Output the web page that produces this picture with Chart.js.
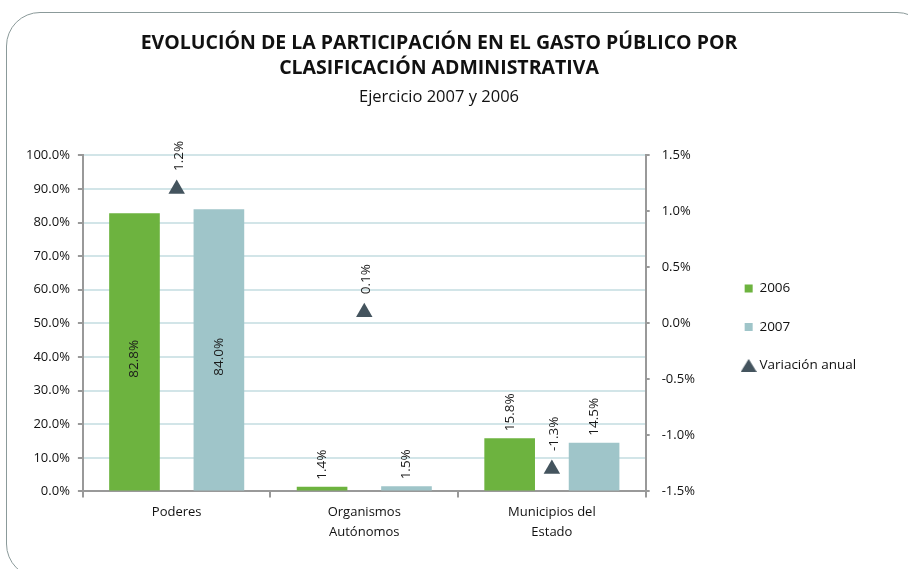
<!DOCTYPE html>
<html>
<head>
<meta charset="utf-8">
<script src="https://cdn.jsdelivr.net/npm/chart.js@4.4.0/dist/chart.umd.min.js"></script>
<style>
  html, body { margin: 0; padding: 0; background: #fff; overflow: hidden; }
  #frame {
    position: absolute; left: 6px; top: 12px; width: 925px; height: 566px;
    border: 1.5px solid #8b9a9a; border-radius: 34px; box-sizing: border-box;
  }
  #wrap { position: absolute; left: 0; top: 0; width: 908px; height: 569px; }
</style>
</head>
<body>
<div id="frame"></div>
<div id="wrap"><canvas id="gasto" width="908" height="569"></canvas></div>
<script>
const categorias = [['Poderes'], ['Organismos', 'Autónomos'], ['Municipios del', 'Estado']]
const valores2006 = [82.8, 1.4, 15.8]
const valores2007 = [84.0, 1.5, 14.5]
const variacionAnual = [1.2, 0.1, -1.3]

const FONT = "'Open Sans', 'DejaVu Sans', sans-serif"
const GRIS = '#44545e'

// triangulo de la leyenda
const triLeyenda = document.createElement('canvas')
triLeyenda.width = 16
triLeyenda.height = 13
const tctx = triLeyenda.getContext('2d')
tctx.fillStyle = GRIS
tctx.beginPath()
tctx.moveTo(8, 0)
tctx.lineTo(16, 13)
tctx.lineTo(0, 13)
tctx.closePath()
tctx.fill()

// etiquetas de valor giradas (dentro de la barra si cabe, si no arriba)
const etiquetas = {
    id: 'etiquetas',
    afterDatasetsDraw(chart) {
        const ctx = chart.ctx
        ctx.save()
        ctx.font = '13.5px ' + FONT
        ctx.fillStyle = '#1a1a1a'
        chart.data.datasets.forEach((ds, i) => {
            const meta = chart.getDatasetMeta(i)
            meta.data.forEach((el, j) => {
                const txt = ds.data[j].toFixed(1) + '%'
                const w = ctx.measureText(txt).width
                ctx.save()
                ctx.textBaseline = 'middle'
                if (ds.type === 'line') {
                    ctx.translate(el.x + 2, el.y - 18)
                    ctx.rotate(-Math.PI / 2)
                    ctx.textAlign = 'left'
                } else if (el.base - el.y > w + 20) {
                    ctx.translate(el.x, (el.y + el.base) / 2 + 7)
                    ctx.rotate(-Math.PI / 2)
                    ctx.textAlign = 'center'
                } else {
                    ctx.translate(el.x, el.y - 7)
                    ctx.rotate(-Math.PI / 2)
                    ctx.textAlign = 'left'
                }
                ctx.fillText(txt, 0, 0)
                ctx.restore()
            })
        })
        ctx.restore()
    }
}

const gasto = document.getElementById('gasto').getContext('2d')
new Chart(gasto, {
    type: 'bar',
    data: {
        labels: categorias,
        datasets: [
            {
                label: '2006',
                data: valores2006,
                backgroundColor: '#6db33f',
                yAxisID: 'y',
                order: 2
            },
            {
                label: '2007',
                data: valores2007,
                backgroundColor: '#9fc5c9',
                yAxisID: 'y',
                order: 2
            },
            {
                type: 'line',
                label: 'Variación anual',
                data: variacionAnual,
                yAxisID: 'y1',
                showLine: false,
                pointStyle: 'triangle',
                pointRadius: 9.5,
                pointHoverRadius: 9.5,
                backgroundColor: GRIS,
                borderColor: GRIS,
                borderWidth: 0,
                order: 1
            }
        ]
    },
    options: {
        responsive: false,
        animation: false,
        devicePixelRatio: 1,
        categoryPercentage: 0.9,
        barPercentage: 0.6,
        layout: { padding: { left: 18, right: 48, top: 0, bottom: 22 } },
        plugins: {
            title: {
                display: true,
                text: ['EVOLUCIÓN DE LA PARTICIPACIÓN EN EL GASTO PÚBLICO POR', 'CLASIFICACIÓN ADMINISTRATIVA'],
                color: '#111',
                font: { family: FONT, size: 19.5, weight: 'bold', lineHeight: 1.28 },
                padding: { top: 31, bottom: 6 }
            },
            subtitle: {
                display: true,
                text: 'Ejercicio 2007 y 2006',
                color: '#111',
                font: { family: FONT, size: 16.5, lineHeight: 1.3 },
                padding: { top: 0, bottom: 47 }
            },
            legend: {
                position: 'right',
                fullSize: false,
                title: { display: true, text: ' ', font: { size: 1, lineHeight: 1 }, padding: { top: 3, bottom: 3 } },
                labels: {
                    usePointStyle: true,
                    pointStyleWidth: 8,
                    boxHeight: 8,
                    color: '#111',
                    font: { family: FONT, size: 13.5 },
                    padding: 25,
                    generateLabels(chart) {
                        return chart.data.datasets.map((ds, i) => ({
                            text: ds.label,
                            fillStyle: ds.backgroundColor,
                            strokeStyle: ds.backgroundColor,
                            lineWidth: 0,
                            pointStyle: ds.type === 'line' ? triLeyenda : 'rect',
                            datasetIndex: i,
                            fontColor: '#111'
                        }))
                    }
                }
            },
            tooltip: { enabled: false }
        },
        scales: {
            x: {
                grid: { drawOnChartArea: false, drawTicks: true, tickLength: 6, tickColor: '#999', lineWidth: 2 },
                border: { color: '#999', width: 2 },
                ticks: { color: '#111', font: { family: FONT, size: 13, lineHeight: 1.6 }, padding: 4, maxRotation: 0 }
            },
            y: {
                position: 'left',
                min: 0,
                max: 100,
                ticks: {
                    stepSize: 10,
                    color: '#111',
                    font: { family: FONT, size: 13 },
                    padding: 8,
                    callback: v => v.toFixed(1) + '%'
                },
                grid: { color: '#d2e5e8', lineWidth: 2, tickColor: '#999', tickLength: 5 },
                border: { color: '#999', width: 2 }
            },
            y1: {
                position: 'right',
                min: -1.5,
                max: 1.5,
                ticks: {
                    stepSize: 0.5,
                    color: '#111',
                    font: { family: FONT, size: 13 },
                    padding: 12,
                    callback: v => v.toFixed(1) + '%'
                },
                grid: { drawOnChartArea: false, tickColor: '#999', tickLength: 4, lineWidth: 2 },
                border: { color: '#999', width: 2 },
                afterFit(scale) { scale.width = 74 }
            }
        }
    },
    plugins: [etiquetas]
})
</script>
</body>
</html>
